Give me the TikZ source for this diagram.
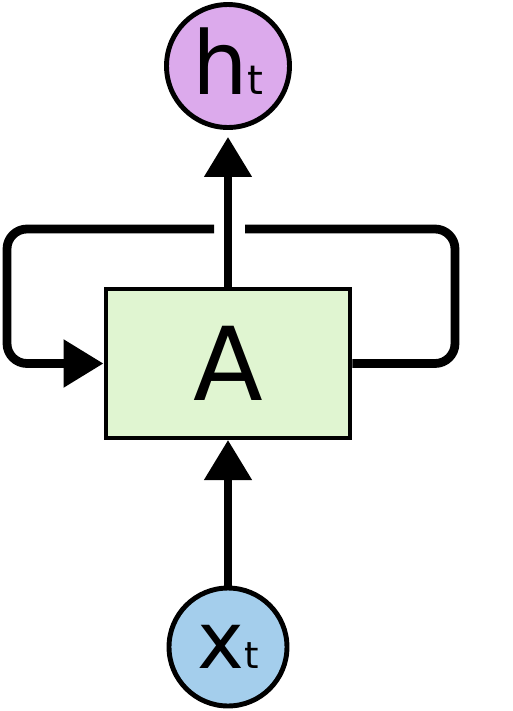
\documentclass[tikz,border=0pt]{standalone}
\usepackage{fontspec}
\setmainfont{DejaVu Sans}
\usetikzlibrary{arrows.meta}
\definecolor{Lilac}{HTML}{DCAAEC}
\definecolor{Sky}{HTML}{A4CEEC}
\definecolor{Mint}{HTML}{E0F5D1}

\begin{document}
\begin{tikzpicture}[x=0.02cm,y=-0.02cm,>={Triangle[length=0.8cm,width=0.92cm]},
  cell/.style={circle,draw,line width=2.8pt,inner sep=0pt}]
  \useasboundingbox (0,0) rectangle (513,711);
  \node[cell,fill=Lilac,minimum size=2.46cm,text depth=5pt] (h) at (228,66) {\fontsize{50}{50}\selectfont h\fontsize{23}{23}\selectfont t};
  \node[cell,fill=Sky,minimum size=2.36cm] (x) at (228,647) {\fontsize{45}{45}\selectfont x\fontsize{21}{21}\selectfont t};
  \node[draw,fill=Mint,line width=2.3pt,minimum width=4.9cm,minimum height=2.98cm] (A) at (228,363.5) {\fontsize{58}{58}\selectfont A};
  \coordinate (loopR) at (455,229); \coordinate (gapR) at (245,229);
  \coordinate (loopL) at (7,229); \coordinate (gapL) at (214,229);
  \draw[line width=5pt,rounded corners=0.4cm] (A.east) -| (loopR) -- (gapR);
  \draw[line width=5pt,rounded corners=0.4cm,->] (gapL) -- (loopL) |- (A.west);
  \draw[line width=4.5pt,->,shorten >=0.14cm] (A) -- (h);
  \draw[line width=4.5pt,->] (x) -- (A);
\end{tikzpicture}
\end{document}
